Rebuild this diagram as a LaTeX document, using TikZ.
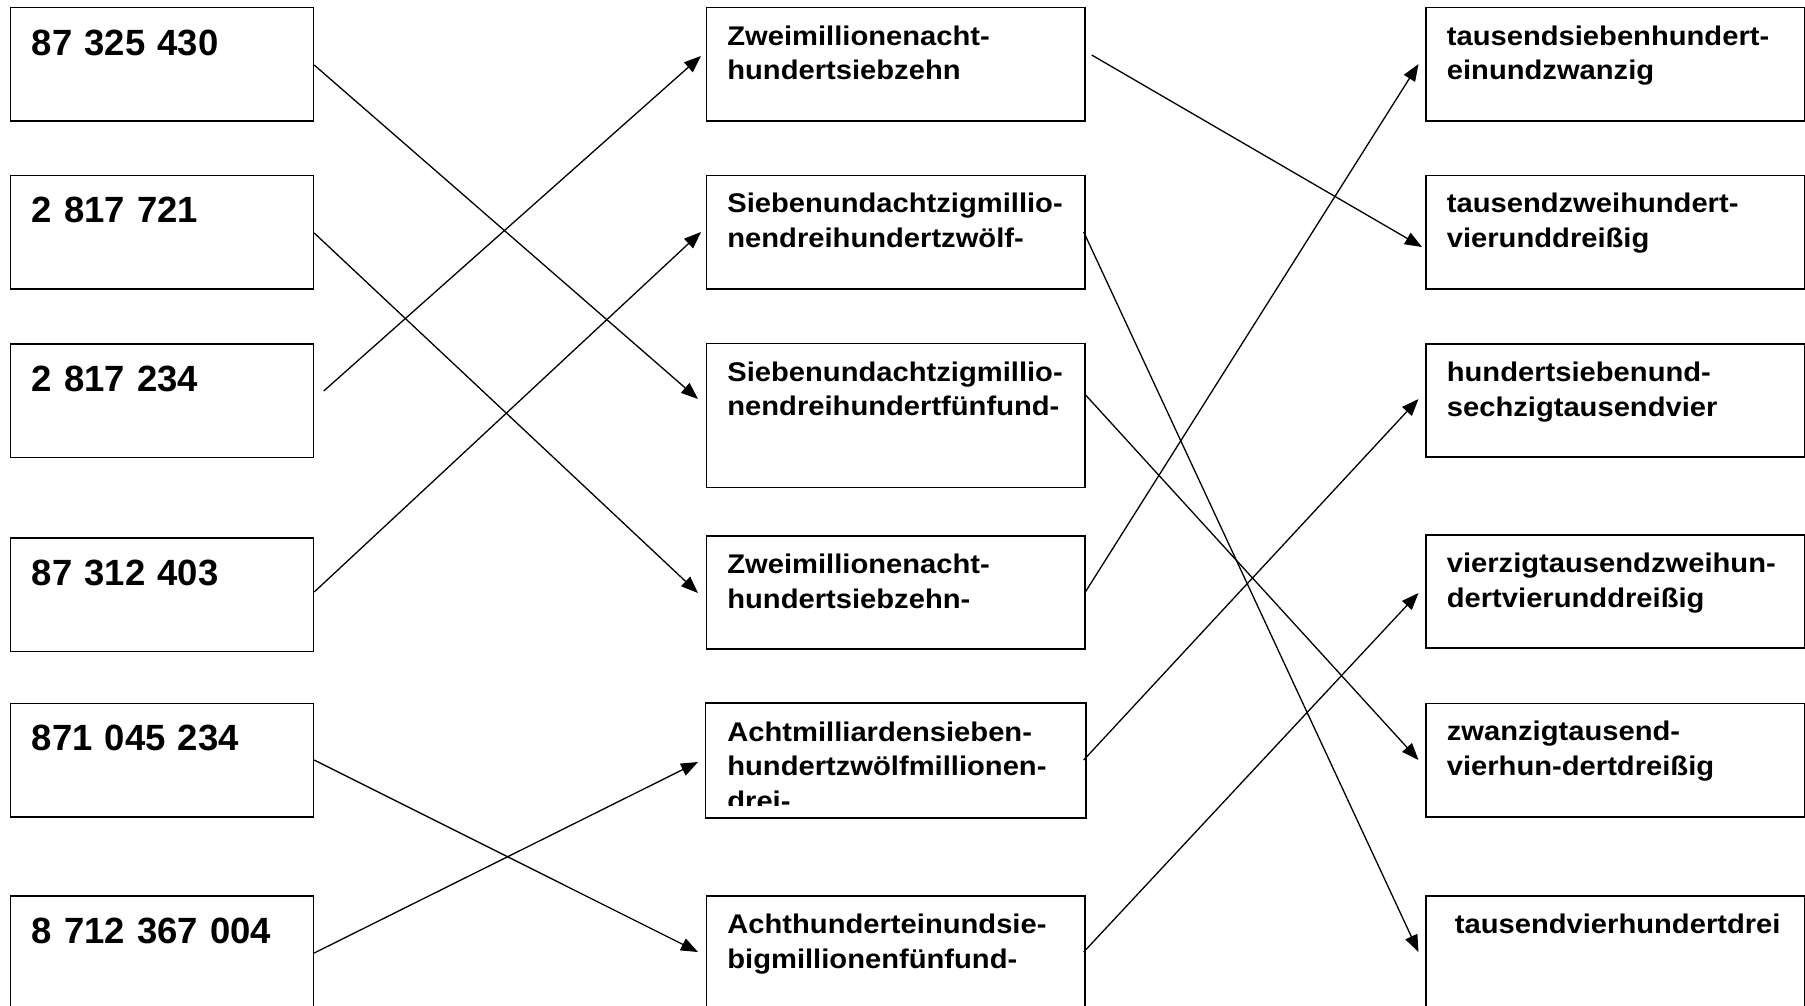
\documentclass[tikz,border=0pt]{standalone}
\usepackage{fontspec}
\setmainfont{Liberation Sans}
\newfontfamily\wordfont{Liberation Sans}[FakeStretch=1.08]
\usetikzlibrary{arrows.meta}

\tikzset{
  boxline/.style={line width=1.7pt},
  numbox/.style={boxline, draw, rectangle, anchor=north west, align=left,
    inner xsep=21.5pt, inner ysep=0pt, text width=260pt,
    text height=47.6pt, text depth=65.9pt,
    font=\bfseries\fontsize{36.5}{40}\selectfont},
  wordbox/.style={boxline, draw, rectangle, anchor=north west, align=left,
    inner xsep=21pt, inner ysep=0pt, text width=336.5pt,
    text height=37.5pt, text depth=75.8pt,
    font=\wordfont\bfseries\fontsize{27}{34.7}\selectfont},
  tallbox/.style={text depth=106.5pt},
  openbox/.style={text depth=82.5pt},
  link/.style={line width=1.3pt, -{Triangle[length=17pt,width=13pt]}},
}

\begin{document}
\begin{tikzpicture}[x=1pt,y=-1pt]
  \clip (0,0) rectangle (1805,1005);

  % left column: the numbers
  \node[numbox] (L1) at (9.5,6.7)   {87 325 430};
  \node[numbox] (L2) at (9.5,174.5) {2 817 721};
  \node[numbox] (L3) at (9.5,343)   {2 817 234};
  \node[numbox] (L4) at (9.5,537)   {87 312 403};
  \node[numbox] (L5) at (9.5,702.5) {871 045 234};
  \node[numbox, text depth=72.4pt] (L6) at (9.5,895) {8 712 367 004};

  % middle column: the number words (large numbers)
  \node[wordbox] (M1) at (705.5,6.7)   {Zweimillionenacht-\\hundertsiebzehn};
  \node[wordbox] (M2) at (705.5,174.5) {Siebenundachtzigmillio-\\nendreihundertzwölf-};
  \node[wordbox, tallbox] (M3) at (705.5,342.7) {Siebenundachtzigmillio-\\nendreihundertfünfund-};
  \node[wordbox] (M4) at (705.5,535)   {Zweimillionenacht-\\hundertsiebzehn-};
  \begin{scope}
    \clip (690,690) rectangle (1100,805);
    \node[wordbox, draw=none] (M5) at (705.5,702.7)
      {Achtmilliardensieben-\\hundertzwölfmillionen-\\drei-};
  \end{scope}
  \draw[boxline] (M5.south west) rectangle (M5.north east);
  \node[wordbox, openbox] (M6) at (705.5,895) {Achthunderteinundsie-\\bigmillionenfünfund-};

  % right column: the number words (small numbers)
  \node[wordbox] (R1) at (1425,6.7)   {tausendsiebenhundert-\\einundzwanzig};
  \node[wordbox] (R2) at (1425,174.5) {tausendzweihundert-\\vierunddreißig};
  \node[wordbox] (R3) at (1425,343)   {hundertsiebenund-\\sechzigtausendvier};
  \node[wordbox] (R4) at (1425,534)   {vierzigtausendzweihun-\\dertvierunddreißig};
  \node[wordbox] (R5) at (1425,702.5) {zwanzigtausend-\\vierhun-dertdreißig};
  \node[wordbox, openbox] (R6) at (1425,895) {\hspace*{8pt}tausendvierhundertdrei};

  % links from the numbers to the middle column
  \draw[link] ([yshift=-58.3pt]L1.north east) -- ([xshift=-7.5pt,yshift=-56.3pt]M3.north west);
  \draw[link] ([yshift=-58.5pt]L2.north east) -- ([xshift=-7.5pt,yshift=-58pt]M4.north west);
  \draw[link] ([xshift=9.5pt,yshift=-48pt]L3.north east) -- ([xshift=-4.5pt,yshift=-49.3pt]M1.north west);
  \draw[link] ([yshift=-55pt]L4.north east) -- ([xshift=-4.5pt,yshift=-57.5pt]M2.north west);
  \draw[link] ([yshift=-57.5pt]L5.north east) -- ([xshift=-7.5pt,yshift=-57pt]M6.north west);
  \draw[link] ([yshift=-58pt]L6.north east) -- ([xshift=-7.5pt,yshift=-59.3pt]M5.north west);

  % links from the middle column to the right column
  \draw[link] ([xshift=6pt,yshift=-48.3pt]M1.north east) -- ([xshift=-3pt,yshift=-72.5pt]R2.north west);
  \draw[link] ([xshift=-2pt,yshift=-57.5pt]M2.north east) -- ([xshift=-6.5pt,yshift=-57pt]R6.north west);
  \draw[link] ([xshift=-1pt,yshift=-51.3pt]M3.north east) -- ([xshift=-6.5pt,yshift=-57.5pt]R5.north west);
  \draw[link] ([xshift=-1pt,yshift=-58pt]M4.north east) -- ([xshift=-6.5pt,yshift=-57.3pt]R1.north west);
  \draw[link] ([xshift=-2pt,yshift=-57.3pt]M5.north east) -- ([xshift=-6.5pt,yshift=-56pt]R3.north west);
  \draw[link] ([xshift=-2pt,yshift=-57pt]M6.north east) -- ([xshift=-6.5pt,yshift=-59pt]R4.north west);
\end{tikzpicture}
\end{document}
